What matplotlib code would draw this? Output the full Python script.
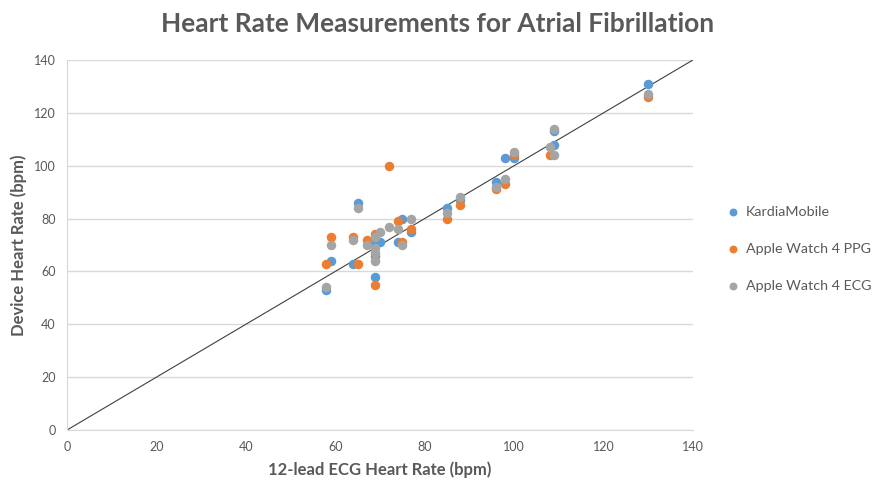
import matplotlib.pyplot as plt

plt.rcParams['font.family'] = ['Lato', 'DejaVu Sans']

# 12-lead ECG reference (x) vs device readings (y)
kardia_x = [58, 59, 64, 65, 69, 69, 69, 70, 74, 75, 77, 85, 88, 96, 98, 100, 109, 109, 130]
kardia_y = [53, 64, 63, 86, 58, 66, 71, 71, 71, 80, 75, 84, 87, 94, 103, 103, 113, 108, 131]

ppg_x = [58, 59, 64, 65, 67, 69, 69, 72, 74, 75, 77, 85, 88, 96, 98, 100, 108, 130]
ppg_y = [63, 73, 73, 63, 72, 74, 55, 100, 79, 71, 76, 80, 85, 91, 93, 104, 104, 126]

ecg_x = [58, 59, 64, 65, 67, 69, 69, 69, 69, 70, 72, 74, 75, 77, 85, 88, 96, 98, 100, 108, 109, 109, 130]
ecg_y = [54, 70, 72, 84, 70, 73, 69, 67, 64, 75, 77, 76, 70, 80, 82, 88, 92, 95, 105, 107, 114, 104, 127]

identity = [0, 140]

txt = '#595959'

fig = plt.figure(figsize=(8.76, 4.83), dpi=100)
ax = fig.add_axes([0.0765, 0.1097, 0.7145, 0.7661])

ax.plot(identity, identity, color='#404040', lw=0.8, zorder=1)
ax.scatter(kardia_x, kardia_y, s=34, color='#5B9BD5', label='KardiaMobile', zorder=3)
ax.scatter(ppg_x, ppg_y, s=34, color='#ED7D31', label='Apple Watch 4 PPG', zorder=3)
ax.scatter(ecg_x, ecg_y, s=34, color='#A5A5A5', label='Apple Watch 4 ECG', zorder=3)

ax.set_xlim(0, 140)
ax.set_ylim(0, 140)
ax.set_xticks(range(0, 141, 20))
ax.set_yticks(range(0, 141, 20))
ax.grid(axis='y', color='#d9d9d9', lw=1)
ax.set_axisbelow(True)
for s in ['top', 'right']:
    ax.spines[s].set_visible(False)
for s in ['left', 'bottom']:
    ax.spines[s].set_color('#d9d9d9')
ax.tick_params(length=0, labelsize=9, colors=txt, pad=8)

ax.set_xlabel('12-lead ECG Heart Rate (bpm)', fontsize=12, fontweight='bold', color=txt, labelpad=6)
ax.set_ylabel('Device Heart Rate (bpm)', fontsize=12, fontweight='bold', color=txt, labelpad=5)
fig.suptitle('Heart Rate Measurements for Atrial Fibrillation', x=0.5, y=0.975,
             fontsize=19, fontweight='bold', color=txt)

leg = ax.legend(loc='center left', bbox_to_anchor=(1.025, 0.49), frameon=False,
                fontsize=10.3, labelspacing=1.75, handletextpad=-0.1, markerscale=0.8,
                borderaxespad=0.3)
for t in leg.get_texts():
    t.set_color(txt)

fig.savefig('out.png', dpi=100)
